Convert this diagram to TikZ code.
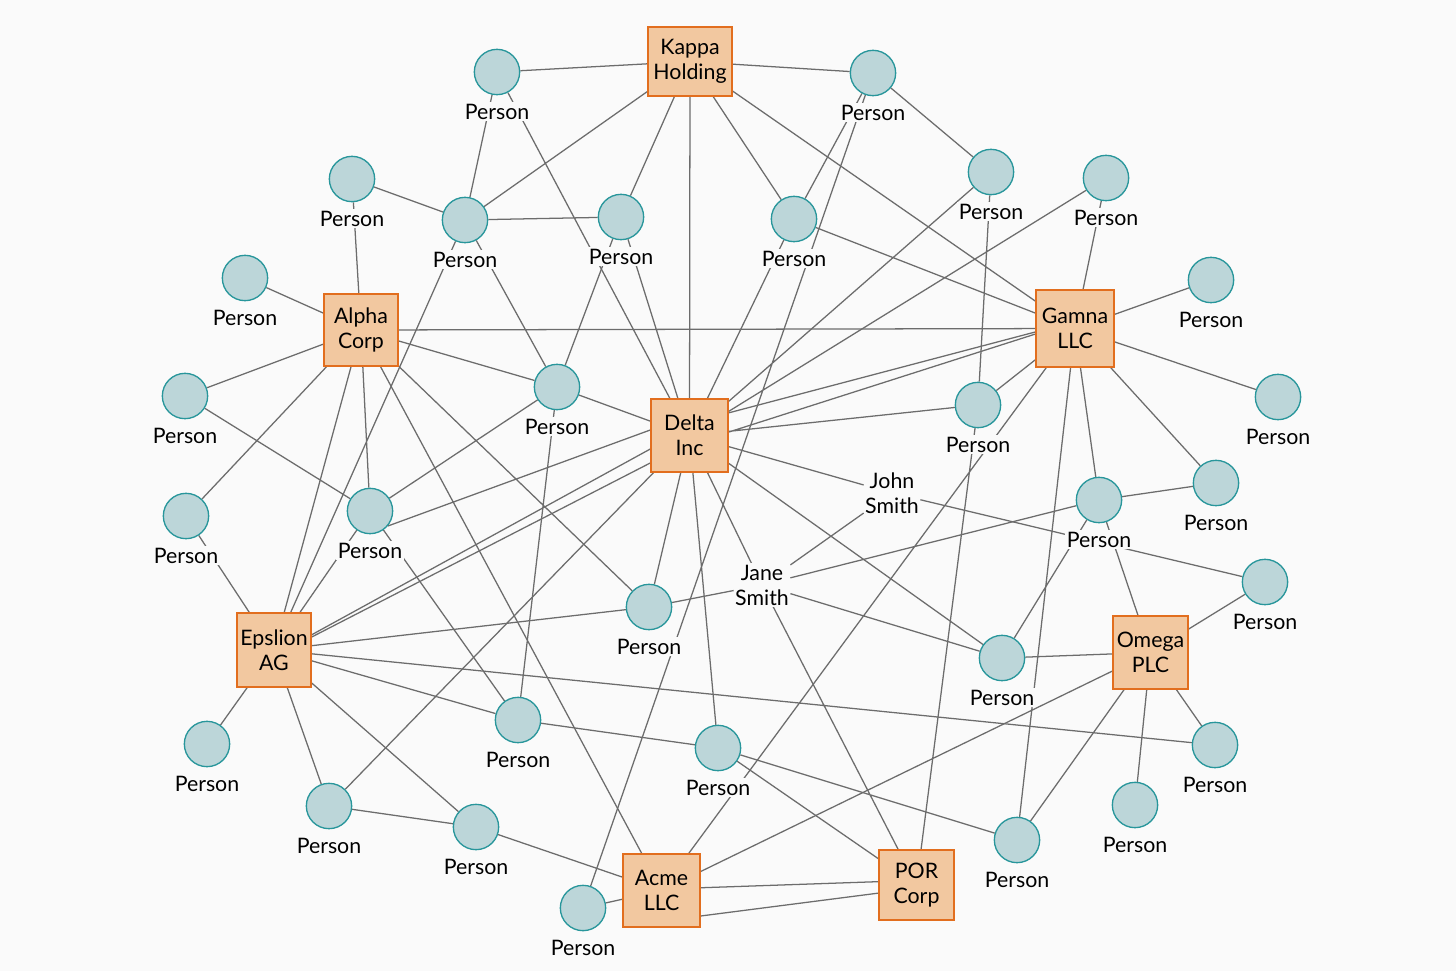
\documentclass[tikz,border=0pt]{standalone}
\usepackage{fontspec}
\setmainfont{Lato}
\pgfdeclarelayer{back}
\pgfdeclarelayer{edges}
\pgfsetlayers{back,edges,main}
\definecolor{bgc}{RGB}{250,250,250}
\definecolor{cofill}{RGB}{242,200,160}
\definecolor{codraw}{RGB}{226,110,30}
\definecolor{pfill}{RGB}{188,214,217}
\definecolor{pdraw}{RGB}{40,150,155}
\definecolor{edgec}{RGB}{108,108,108}
\tikzset{
 co/.style 2 args={draw=codraw, fill=cofill, line width=1.1pt, minimum width=#1, minimum height=#2, inner sep=0pt, align=center, font=\fontsize{16}{18.75}\selectfont, text=black},
 per/.style={circle, draw=pdraw, fill=pfill, line width=1pt, minimum size=34pt, inner sep=0pt},
 lbl/.style={fill=bgc, inner sep=1pt, font=\fontsize{16}{18.75}\selectfont, text=black},
 nm/.style={fill=bgc, inner sep=1pt, align=center, font=\fontsize{16}{18.75}\selectfont, text=black},
 ed/.style={draw=edgec, line width=0.95pt},
}
\newcommand\persn[3]{\node[per] (#1) at (#2,#3) {}; \node[lbl] (#1l) at (#2,#3+39.5) {Person};}
\begin{document}
\begin{tikzpicture}[x=0.75pt,y=-0.75pt]
\begin{pgfonlayer}{back}
\fill[bgc] (0,0) rectangle (1456,971);
\end{pgfonlayer}
\useasboundingbox (0,0) rectangle (1456,971);
% companies
\node[co={63pt}{51.75pt}] (kap) at (690,61.5) {Kappa\\Holding};
\node[co={55.5pt}{54pt}] (alp) at (361,330) {Alpha\\Corp};
\node[co={58.5pt}{57.75pt}] (gam) at (1075,328.5) {Gamna\\LLC};
\node[co={57.75pt}{54.75pt}] (del) at (689.5,435.5) {Delta\\Inc};
\node[co={55.5pt}{55.5pt}] (eps) at (274,650) {Epslion\\AG};
\node[co={56.25pt}{54.75pt}] (ome) at (1150.5,652.5) {Omega\\PLC};
\node[co={57.75pt}{54.75pt}] (acm) at (661.5,890.5) {Acme\\LLC};
\node[co={56.25pt}{52.5pt}] (por) at (916.5,885) {POR\\Corp};
% persons
\persn{p1}{497}{72}
\persn{p2}{873}{73}
\persn{p3}{352}{179}
\persn{p4}{465}{220}
\persn{p5}{621}{217}
\persn{p6}{794}{219}
\persn{p7}{991}{172}
\persn{p8}{1106}{178}
\persn{p9}{245}{278}
\persn{p10}{1211}{280}
\persn{p11}{185}{396}
\persn{p12}{557}{387}
\persn{p13}{978}{405}
\persn{p14}{1278}{397}
\persn{p15}{186}{516}
\persn{p16}{370}{511}
\persn{p17}{1099}{500}
\persn{p18}{1216}{483}
\persn{p19}{1265}{582}
\persn{p20}{649}{607}
\persn{p21}{1002}{658}
\persn{p22}{207}{744}
\persn{p23}{518}{720}
\persn{p24}{718}{748}
\persn{p25}{1215}{745}
\persn{p26}{329}{806}
\persn{p27}{476}{827}
\persn{p28}{1135}{805}
\persn{p29}{1017}{840}
\persn{p30}{583}{908}
% named people
\node[nm] (john) at (892,493) {John\\Smith};
\node[nm] (jane) at (762,585) {Jane\\Smith};
% edges
\begin{pgfonlayer}{edges}
\draw[ed] (p1)--(kap) (p1)--(p4) (p1)--(del) (kap)--(p4) (p3)--(p4) (p4)--(p5)
 (kap)--(p5) (kap)--(del) (kap)--(p6) (kap)--(p2) (kap)--(gam)
 (p2)--(p6) (p2)--(p30) (p2)--(p7) (p6)--(gam) (p6)--(del) (p7)--(del)
 (p8)--(del) (p7)--(p13) (p8)--(gam);
\draw[ed] (p3)--(alp) (p9)--(alp) (p11)--(alp) (p15)--(alp) (alp)--(eps)
 (p4)--(eps) (p16)--(eps) (p15)--(eps) (alp)--(p16) (p11)--(p16)
 (alp)--(acm) (alp)--(p20) (alp)--(p12) (alp)--(gam)
 (p12)--(p16) (p12)--(del) (p4)--(p12) (p5)--(p12) (p12)--(p23) (p16)--(p23)
 (del.172)--(p16.-40) (p5)--(del);
\draw[ed] (del.199)--(eps.22) (del.215)--(eps.19)
 (del.30)--(gam.185) (del.5)--(gam.188)
 (del)--(p13) (del)--(john) (john)--(p19) (john)--(jane) (del)--(jane)
 (del)--(p21) (del)--(p20) (del)--(p24) (del)--(p26);
\draw[ed] (gam)--(p10) (gam)--(p14) (gam)--(p18) (gam)--(p17) (gam)--(p29)
 (gam)--(acm) (gam)--(p13) (p13)--(por)
 (p17)--(p18) (p17)--(jane) (p17)--(p21) (p17)--(ome)
 (jane)--(p21) (p21)--(ome)
 (ome)--(p19) (ome)--(p25) (ome)--(p28) (ome)--(p29) (ome)--(acm);
\draw[ed] (eps)--(p25) (eps)--(p20) (p20)--(jane) (jane)--(por)
 (eps)--(p23) (p23)--(p24) (p24)--(por) (p24)--(p29)
 (eps)--(p26) (eps)--(p27) (eps)--(p22) (p26)--(p27) (p27)--(acm) (p30)--(acm)
 (acm.4)--(por.175) (acm.-33)--(por.192);
\end{pgfonlayer}
\end{tikzpicture}
\end{document}
